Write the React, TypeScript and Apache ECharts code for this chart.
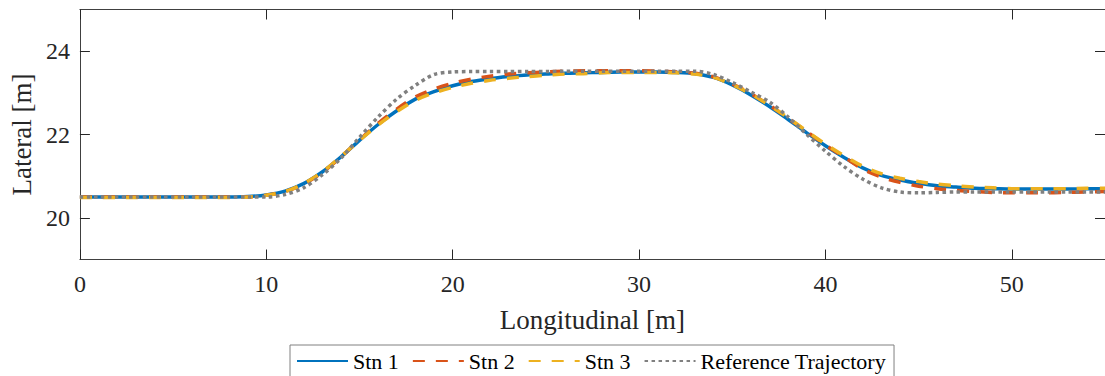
import React, { useEffect, useRef } from "react";
import * as echarts from "echarts";

const xValues = [
  0, 1, 2, 3, 4, 5, 6, 7, 8, 9, 10, 11, 12, 13, 14, 15, 16, 17, 18, 19, 20,
  21, 22, 23, 24, 25, 26, 27, 28, 29, 30, 31, 32, 33, 34, 35, 36, 37, 38, 39,
  40, 41, 42, 43, 44, 45, 46, 47, 48, 49, 50, 51, 52, 53, 54, 55,
];

const stn1 = [
  20.5, 20.5, 20.5, 20.5, 20.5, 20.5, 20.5, 20.5, 20.5, 20.51, 20.55, 20.64,
  20.82, 21.1, 21.46, 21.86, 22.24, 22.57, 22.85, 23.03, 23.17, 23.27, 23.34,
  23.39, 23.43, 23.45, 23.47, 23.48, 23.49, 23.5, 23.5, 23.5, 23.49, 23.46,
  23.37, 23.19, 22.95, 22.67, 22.36, 22.04, 21.73, 21.45, 21.2, 21.02, 20.91,
  20.83, 20.77, 20.74, 20.71, 20.7, 20.69, 20.69, 20.69, 20.69, 20.7, 20.7,
];

const stn2 = [
  20.5, 20.5, 20.5, 20.5, 20.5, 20.5, 20.5, 20.5, 20.5, 20.5, 20.54, 20.63,
  20.81, 21.09, 21.46, 21.87, 22.27, 22.61, 22.9, 23.09, 23.23, 23.33, 23.4,
  23.45, 23.48, 23.5, 23.52, 23.53, 23.53, 23.53, 23.53, 23.52, 23.5, 23.47,
  23.38, 23.21, 22.98, 22.7, 22.39, 22.07, 21.75, 21.46, 21.17, 20.98, 20.85,
  20.76, 20.7, 20.66, 20.63, 20.61, 20.6, 20.6, 20.6, 20.61, 20.62, 20.63,
];

const stn3 = [
  20.49, 20.49, 20.49, 20.49, 20.49, 20.49, 20.49, 20.49, 20.49, 20.5, 20.54,
  20.63, 20.82, 21.1, 21.47, 21.86, 22.23, 22.55, 22.82, 23.0, 23.13, 23.23,
  23.3, 23.35, 23.39, 23.42, 23.45, 23.46, 23.48, 23.49, 23.49, 23.49, 23.48,
  23.45, 23.37, 23.2, 22.97, 22.7, 22.4, 22.08, 21.77, 21.49, 21.24, 21.06,
  20.95, 20.87, 20.81, 20.77, 20.74, 20.72, 20.7, 20.7, 20.7, 20.7, 20.71, 20.71,
];

const reference = [
  20.5, 20.5, 20.5, 20.5, 20.5, 20.5, 20.5, 20.5, 20.5, 20.5, 20.5, 20.56,
  20.72, 21.03, 21.43, 21.93, 22.42, 22.85, 23.18, 23.44, 23.5, 23.51, 23.51,
  23.51, 23.51, 23.51, 23.52, 23.52, 23.52, 23.52, 23.52, 23.52, 23.52, 23.52,
  23.44, 23.25, 23.02, 22.78, 22.42, 22.0, 21.6, 21.23, 20.93, 20.72, 20.62,
  20.6, 20.61, 20.62, 20.62, 20.62, 20.62, 20.62, 20.62, 20.62, 20.62, 20.62,
];

const seriesNames = ["Stn 1", "Stn 2", "Stn 3", "Reference Trajectory"];
const seriesColors = ["#0072BD", "#D95319", "#EDB120", "#808080"];
const xTicks = [0, 10, 20, 30, 40, 50];
const yTicks = [20, 22, 24];

const FONT = "Liberation Serif";
const AXIS_COLOR = "#262626";

export default function App() {
  const ref = useRef<HTMLDivElement>(null);

  useEffect(() => {
    if (!ref.current) return;
    const chart = echarts.init(ref.current, null, { renderer: "svg" });

    const pairs = (ys: number[]) => xValues.map((x, i) => [x, ys[i]]);
    const allData = [stn1, stn2, stn3, reference];
    const lineTypes: any[] = ["solid", [12, 11], [12, 11], [3.5, 3.5]];

    const axisCommon = {
      type: "value" as const,
      splitLine: { show: false },
      axisLine: { show: true, onZero: false, lineStyle: { color: "#404040", width: 1 } },
    };

    chart.setOption({
      animation: false,
      backgroundColor: "#ffffff",
      textStyle: { fontFamily: FONT },
      grid: { left: 76, top: 9.5, width: 1036, height: 250, containLabel: false },
      legend: {
        data: seriesNames,
        left: 290,
        top: 345,
        orient: "horizontal",
        itemWidth: 51,
        itemHeight: 14,
        itemGap: 13,
        padding: [5, 8, 5, 6],
        borderColor: "#808080",
        borderWidth: 1,
        backgroundColor: "#ffffff",
        itemStyle: { opacity: 0 },
        textStyle: { fontFamily: FONT, fontSize: 22, color: "#000000" },
      },
      xAxis: [
        {
          ...axisCommon,
          position: "bottom",
          min: 0,
          max: 55,
          interval: 10,
          axisTick: { show: true, inside: true, length: 10, lineStyle: { color: AXIS_COLOR }, customValues: xTicks },
          axisLabel: { show: true, margin: 12, fontFamily: FONT, fontSize: 24, color: AXIS_COLOR, customValues: xTicks },
          name: "Longitudinal [m]",
          nameLocation: "middle",
          nameGap: 47,
          nameTextStyle: { fontFamily: FONT, fontSize: 27, color: AXIS_COLOR },
        },
        {
          ...axisCommon,
          position: "top",
          min: 0,
          max: 55,
          interval: 10,
          axisTick: { show: true, inside: true, length: 10, lineStyle: { color: AXIS_COLOR }, customValues: xTicks },
          axisLabel: { show: false },
        },
      ],
      yAxis: [
        {
          ...axisCommon,
          position: "left",
          min: 19,
          max: 25,
          axisTick: { show: true, inside: true, length: 10, lineStyle: { color: AXIS_COLOR }, customValues: yTicks },
          axisLabel: { show: true, margin: 10, fontFamily: FONT, fontSize: 24, color: AXIS_COLOR, customValues: yTicks },
          name: "Lateral [m]",
          nameLocation: "middle",
          nameGap: 42,
          nameTextStyle: { fontFamily: FONT, fontSize: 27, color: AXIS_COLOR },
        },
        {
          ...axisCommon,
          position: "right",
          min: 19,
          max: 25,
          axisTick: { show: true, inside: true, length: 10, lineStyle: { color: AXIS_COLOR }, customValues: yTicks },
          axisLabel: { show: false },
        },
      ],
      series: allData.map((ys, i) => ({
        name: seriesNames[i],
        type: "line",
        xAxisIndex: 0,
        yAxisIndex: 0,
        data: pairs(ys),
        showSymbol: false,
        symbol: "none",
        smooth: 0.3,
        color: seriesColors[i],
        lineStyle: { color: seriesColors[i], width: 3.5, type: lineTypes[i] },
        z: 2 + i,
      })),
    });

    return () => chart.dispose();
  }, []);

  return (
    <div
      ref={ref}
      style={{ position: "fixed", left: 0, top: 0, width: 1105, height: 376 }}
    />
  );
}
